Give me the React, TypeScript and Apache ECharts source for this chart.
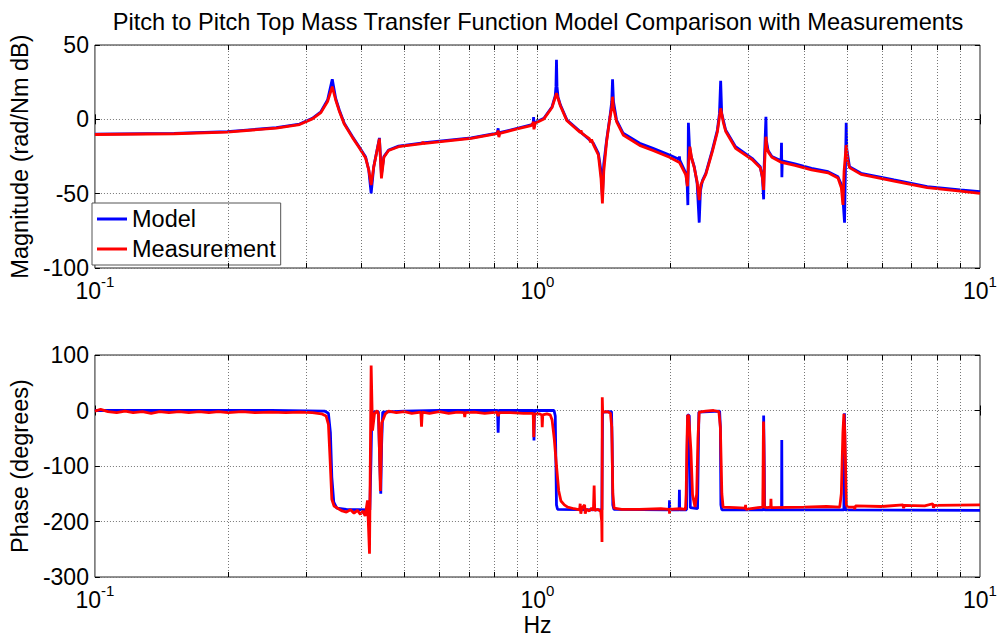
import React, { useEffect, useRef } from "react";
import * as echarts from "echarts";

const FONT = '"Liberation Sans", Arial, Helvetica, sans-serif';

const TITLE = "Pitch to Pitch Top Mass Transfer Function Model Comparison with Measurements";
const seriesNames = ["Model", "Measurement"];
const seriesColors = ["#0000FF", "#FF0000"];

const freqMin = 0.1;
const freqMax = 10;
const magMin = -100;
const magMax = 50;
const magStep = 50;
const phaseMin = -300;
const phaseMax = 100;
const phaseStep = 100;

// vertical grid positions (log minor + decade)
const gridFreqs = [0.2, 0.3, 0.4, 0.5, 0.6, 0.7, 0.8, 0.9, 1, 2, 3, 4, 5, 6, 7, 8, 9];

// [Hz, dB]
const modelMag: [number, number][] = [
  [0.1, -9.9], [0.151, -9.4], [0.199, -8.3], [0.257, -5.6], [0.29, -3.2], [0.31, 0.7], [0.324, 5.1],
  [0.3355, 13], [0.3438, 27], [0.35, 14], [0.3566, 6.3], [0.3659, -2.7], [0.382, -11.7], [0.3953, -18.4],
  [0.4087, -25.1], [0.4157, -34.1], [0.4209, -49.8], [0.4266, -31.9], [0.434, -20.6], [0.4394, -12.5],
  [0.444, -37], [0.4497, -25.1], [0.4609, -20.6], [0.4855, -18], [0.5568, -15.7], [0.7087, -12.4],
  [0.799, -9.6], [0.812, -9], [0.815, -6], [0.817, -11], [0.821, -9], [0.9, -6], [0.967, -3.8],
  [0.978, -2.8], [0.98, 1.5], [0.983, -5.5], [0.988, -2.2], [1.034, 0.7], [1.079, 8.5], [1.097, 16],
  [1.101, 22], [1.104, 40], [1.107, 22], [1.113, 15], [1.127, 9.6], [1.166, -0.5], [1.249, -8.3],
  [1.338, -16.1], [1.373, -22.9], [1.392, -35], [1.402, -52], [1.412, -30], [1.433, -14], [1.458, 1.7],
  [1.472, 12], [1.478, 27], [1.485, 12], [1.509, -0.5], [1.562, -9.4], [1.702, -16.1], [1.824, -19.5],
  [1.988, -24], [2.088, -26.8], [2.093, -25], [2.097, -27.5], [2.165, -36.3], [2.18, -45], [2.187, -57.7],
  [2.193, -2.3], [2.205, -18], [2.225, -25], [2.261, -31.9], [2.295, -43], [2.32, -69.5], [2.335, -48],
  [2.36, -41], [2.401, -36.3], [2.485, -20.6], [2.55, -7.2], [2.578, 4], [2.594, 26], [2.608, 4],
  [2.662, -7.2], [2.803, -18.4], [3.054, -26.2], [3.188, -31.9], [3.225, -40], [3.244, -53.8], [3.25, -35],
  [3.283, 1.7], [3.29, -14], [3.32, -21], [3.386, -25], [3.553, -27.8], [3.56, -15.7], [3.567, -39],
  [3.574, -28], [3.817, -30], [4.162, -33], [4.537, -35.2], [4.776, -38.6], [4.88, -45], [4.942, -69.5],
  [4.985, -2.3], [5.0, -20], [5.07, -31.9], [5.385, -36.3], [6.395, -40.8], [7.598, -45.3], [9.02, -47.5],
  [10, -48.7],
];

const measMag: [number, number][] = [
  [0.1, -10.2], [0.151, -9.7], [0.199, -8.6], [0.257, -5.9], [0.29, -3.5], [0.31, 0.3], [0.324, 4.5],
  [0.3355, 12], [0.3438, 22], [0.35, 13], [0.3566, 5.5], [0.3659, -3.2], [0.382, -12.3], [0.3953, -19],
  [0.4087, -25.8], [0.4157, -34], [0.4209, -44.2], [0.4266, -32], [0.434, -21], [0.4394, -13],
  [0.444, -39.7], [0.4497, -25.5], [0.4609, -21], [0.4855, -18.4], [0.549, -16.4], [0.551, -15],
  [0.553, -16.4], [0.5568, -16.2], [0.7087, -12.8], [0.799, -10], [0.812, -9.4], [0.815, -7.5],
  [0.818, -12], [0.822, -9.4], [0.9, -6.4], [0.967, -4.2], [0.976, -3], [0.979, -1.5], [0.982, -6.7],
  [0.988, -2.6], [1.034, 0.3], [1.079, 8], [1.095, 14], [1.104, 17.7], [1.113, 14], [1.127, 9],
  [1.166, -1], [1.249, -8.8], [1.254, -7.5], [1.26, -9.5], [1.31, -13], [1.318, -15.5], [1.325, -13.5],
  [1.338, -17], [1.373, -24], [1.392, -40], [1.402, -56.5], [1.412, -35], [1.433, -15], [1.458, 1],
  [1.472, 8], [1.478, 15.2], [1.485, 8], [1.509, -1.5], [1.562, -10.5], [1.702, -17.5], [1.824, -21],
  [1.988, -25.5], [2.093, -29], [2.165, -37.5], [2.182, -45], [2.195, -30], [2.21, -18.4], [2.23, -26],
  [2.261, -32.5], [2.295, -42], [2.32, -54.3], [2.34, -44], [2.401, -37], [2.485, -21.5], [2.55, -8.5],
  [2.594, 7.4], [2.63, -2], [2.662, -8], [2.803, -19.5], [3.054, -27], [3.188, -32.5], [3.22, -38],
  [3.244, -47.5], [3.26, -30], [3.283, -11.7], [3.3, -19], [3.33, -22.5], [3.386, -25.5], [3.56, -29],
  [3.817, -31], [4.162, -34], [4.537, -36], [4.776, -39.5], [4.86, -46], [4.901, -57.6], [4.93, -35],
  [4.985, -17.3], [5.02, -27], [5.07, -32.5], [5.385, -37], [6.395, -41.5], [7.598, -46], [9.02, -48.3],
  [10, -49.8],
];

// [Hz, degrees]
const modelPhase: [number, number][] = [
  [0.1, 0], [0.25, 0], [0.33, -1], [0.337, -5], [0.3405, -40], [0.343, -120], [0.3465, -165], [0.352, -176],
  [0.37, -178], [0.418, -179], [0.4205, -90], [0.4225, -3], [0.437, -2], [0.4405, -100], [0.4425, -150],
  [0.4445, -60], [0.447, -3], [0.5, -1], [0.6, 0], [0.8125, 0], [0.815, -40], [0.8175, 0], [0.9795, 0],
  [0.982, -54], [0.9845, 0], [1.09, 0], [1.097, -10], [1.101, -100], [1.104, -170], [1.11, -178],
  [1.398, -179], [1.4005, -90], [1.403, -3], [1.47, -2], [1.475, -60], [1.48, -170], [1.488, -178],
  [1.985, -179], [1.988, -162], [1.991, -179], [2.09, -179], [2.093, -143], [2.096, -179], [2.172, -179],
  [2.178, -90], [2.184, -8], [2.203, -9], [2.209, -90], [2.215, -175], [2.3, -177], [2.308, -90],
  [2.316, -3], [2.58, -1], [2.59, -30], [2.597, -170], [2.61, -179], [3.238, -179], [3.241, -100],
  [3.244, -9], [3.25, -9], [3.255, -100], [3.26, -179], [3.561, -179], [3.565, -53], [3.569, -179],
  [4.925, -179], [4.932, -100], [4.94, -5], [4.95, -5], [4.958, -100], [4.966, -179], [10, -180],
];

const measPhase: [number, number][] = [
  [0.1, -1], [0.103, 2], [0.107, -2], [0.112, -4], [0.117, -1], [0.122, -4], [0.128, -2], [0.134, -5],
  [0.14, -2], [0.147, -4], [0.155, -2], [0.163, -4], [0.172, -2], [0.181, -4], [0.19, -2], [0.2, -4],
  [0.215, -2], [0.23, -4], [0.25, -3], [0.27, -4], [0.29, -3], [0.31, -4], [0.325, -6], [0.333, -10],
  [0.337, -25], [0.34, -90], [0.343, -160], [0.347, -172], [0.355, -177], [0.362, -181], [0.37, -183],
  [0.378, -179], [0.385, -185], [0.392, -180], [0.398, -187], [0.403, -181], [0.408, -190], [0.413, -162],
  [0.4173, -258], [0.4209, 81], [0.4239, -36], [0.4282, -6], [0.434, 0], [0.4375, -8], [0.4416, -145],
  [0.445, -22], [0.4532, -6], [0.4609, -1], [0.48, -4], [0.5, -2], [0.52, -5], [0.545, -3], [0.547, -29],
  [0.549, -3], [0.57, -5], [0.6, -2], [0.63, -5], [0.66, -3], [0.683, -4], [0.685, -12], [0.687, -4],
  [0.72, -3], [0.76, -5], [0.81, -3], [0.815, -10], [0.82, -4], [0.87, -4], [0.93, -5], [0.978, -5],
  [0.981, -48], [0.984, -6], [1.01, -6], [1.023, -8], [1.025, -30], [1.028, -8], [1.05, -6], [1.069, -8],
  [1.079, -17], [1.091, -50], [1.104, -100], [1.117, -145], [1.13, -163], [1.15, -170], [1.17, -174],
  [1.21, -177], [1.245, -179], [1.249, -168], [1.253, -186], [1.26, -176], [1.278, -170], [1.282, -186],
  [1.29, -178], [1.31, -181], [1.325, -176], [1.338, -180], [1.343, -135], [1.347, -180], [1.37, -178],
  [1.39, -182], [1.397, -200], [1.399, -237], [1.401, 24], [1.404, -3], [1.44, -2], [1.462, -5],
  [1.472, -30], [1.48, -150], [1.49, -176], [1.55, -178], [1.7, -178], [1.9, -177], [1.986, -178],
  [1.988, -186], [1.99, -178], [2.1, -177], [2.16, -178], [2.168, -150], [2.175, -72], [2.184, -8],
  [2.197, -10], [2.222, -72], [2.241, -152], [2.27, -174], [2.29, -150], [2.305, -50], [2.32, -3],
  [2.4, -1], [2.5, 0], [2.57, -2], [2.59, -30], [2.61, -150], [2.627, -174], [2.8, -175], [2.95, -176],
  [2.953, -170], [2.956, -178], [3.15, -175], [3.23, -174], [3.238, -60], [3.242, -20], [3.248, -60],
  [3.256, -174], [3.3, -175], [3.365, -174], [3.37, -159], [3.375, -175], [4.0, -174], [4.5, -173],
  [4.82, -174], [4.86, -150], [4.9, -40], [4.925, -6], [4.95, -40], [4.99, -170], [5.02, -174],
  [5.2, -174], [5.21, -178], [5.23, -172], [6.0, -173], [6.7, -170], [6.72, -176], [6.75, -171],
  [7.5, -172], [7.82, -168], [7.85, -175], [7.9, -171], [10, -170],
];

function gridMarks(yMax: number, yMin: number, tickLen: number) {
  const lines: any[] = gridFreqs.map((f) => ({ xAxis: f }));
  gridFreqs.forEach((f) => {
    lines.push([
      { coord: [f, yMax], lineStyle: { type: "solid", color: "#000", width: 1 } },
      { coord: [f, yMax - tickLen] },
    ]);
    lines.push([
      { coord: [f, yMin], lineStyle: { type: "solid", color: "#000", width: 1 } },
      { coord: [f, yMin + tickLen] },
    ]);
  });
  return lines;
}

function xAxes(gridIndex: number, withName: boolean) {
  return [
    {
      type: "log",
      logBase: 10,
      gridIndex,
      min: freqMin,
      max: freqMax,
      position: "bottom",
      name: withName ? "Hz" : "",
      nameLocation: "middle",
      nameGap: 36,
      nameTextStyle: { fontSize: 23, color: "#000", fontFamily: FONT },
      axisLine: { show: false },
      axisTick: { inside: true, length: 5, lineStyle: { color: "#000" } },
      splitLine: { show: false },
      axisLabel: {
        margin: 6,
        formatter: (v: number) => `{b|10}{s|${Math.round(Math.log10(v))}}`,
        rich: {
          b: { fontSize: 23, lineHeight: 28, verticalAlign: "bottom", color: "#000", fontFamily: FONT },
          s: { fontSize: 15, lineHeight: 15, verticalAlign: "top", color: "#000", fontFamily: FONT },
        },
      },
    },
    {
      type: "log",
      logBase: 10,
      gridIndex,
      min: freqMin,
      max: freqMax,
      position: "top",
      axisLine: { show: false },
      axisTick: { inside: true, length: 5, lineStyle: { color: "#000" } },
      splitLine: { show: false },
      axisLabel: { show: false },
    },
  ];
}

function yAxes(gridIndex: number, name: string, min: number, max: number, interval: number) {
  return [
    {
      type: "value",
      gridIndex,
      min,
      max,
      interval,
      name,
      nameLocation: "middle",
      nameGap: 54,
      nameTextStyle: { fontSize: 23.5, color: "#000", fontFamily: FONT },
      axisLine: { show: false },
      axisTick: { inside: true, length: 5, lineStyle: { color: "#000" } },
      axisLabel: { fontSize: 23, color: "#000", margin: 6, fontFamily: FONT },
      splitLine: { show: true, lineStyle: { type: [1, 2], color: "#777", width: 1 } },
    },
    {
      type: "value",
      gridIndex,
      min,
      max,
      interval,
      position: "right",
      axisLine: { show: false },
      axisTick: { inside: true, length: 5, lineStyle: { color: "#000" } },
      axisLabel: { show: false },
      splitLine: { show: false },
    },
  ];
}

function lineSeries(name: string, color: string, data: [number, number][], axisIndex: number) {
  return {
    type: "line",
    name,
    xAxisIndex: axisIndex,
    yAxisIndex: axisIndex,
    data,
    showSymbol: false,
    symbol: "none",
    z: 3,
    lineStyle: { color, width: 2.8 },
    itemStyle: { color },
    emphasis: { disabled: true },
  };
}

function markSeries(axisIndex: number, yMax: number, yMin: number, tickLen: number) {
  return {
    type: "line",
    name: "grid" + axisIndex,
    xAxisIndex: axisIndex,
    yAxisIndex: axisIndex,
    data: [],
    z: 1,
    silent: true,
    markLine: {
      silent: true,
      symbol: ["none", "none"],
      label: { show: false },
      lineStyle: { type: [1, 2], color: "#777", width: 1 },
      emphasis: { disabled: true },
      data: gridMarks(yMax, yMin, tickLen),
    },
  };
}

export default function App() {
  const ref = useRef<HTMLDivElement>(null);
  useEffect(() => {
    document.body.style.margin = "0";
    const chart = echarts.init(ref.current!, null, { renderer: "svg" });
    const option: any = {
      animation: false,
      backgroundColor: "#fff",
      title: {
        text: TITLE,
        left: 533,
        top: 5,
        textAlign: "center",
        textStyle: { fontSize: 23.6, fontWeight: "normal", color: "#000", fontFamily: FONT },
      },
      legend: {
        data: seriesNames,
        orient: "vertical",
        left: 92,
        top: 203,
        icon: "rect",
        itemWidth: 30,
        itemHeight: 3,
        itemGap: 6,
        padding: [4, 5, 4, 5],
        backgroundColor: "#fff",
        borderColor: "#555",
        borderWidth: 1,
        selectedMode: false,
        textStyle: { fontSize: 23.5, color: "#000", fontFamily: FONT },
      },
      grid: [
        { left: 87, top: 45, width: 893, height: 223, show: true, borderColor: "#222", borderWidth: 1, backgroundColor: "#fff" },
        { left: 87, top: 355, width: 893, height: 222, show: true, borderColor: "#222", borderWidth: 1, backgroundColor: "#fff" },
      ],
      xAxis: [...xAxes(0, false), ...xAxes(1, true)],
      yAxis: [
        ...yAxes(0, "Magnitude (rad/Nm dB)", magMin, magMax, magStep),
        ...yAxes(1, "Phase (degrees)", phaseMin, phaseMax, phaseStep),
      ],
      series: [
        markSeries(0, magMax, magMin, 3.4),
        lineSeries(seriesNames[0], seriesColors[0], modelMag, 0),
        lineSeries(seriesNames[1], seriesColors[1], measMag, 0),
        markSeries(2, phaseMax, phaseMin, 9),
        lineSeries(seriesNames[0], seriesColors[0], modelPhase, 2),
        lineSeries(seriesNames[1], seriesColors[1], measPhase, 2),
      ],
    };
    chart.setOption(option);
    return () => chart.dispose();
  }, []);
  return <div ref={ref} style={{ width: 1001, height: 640, background: "#fff" }} />;
}
